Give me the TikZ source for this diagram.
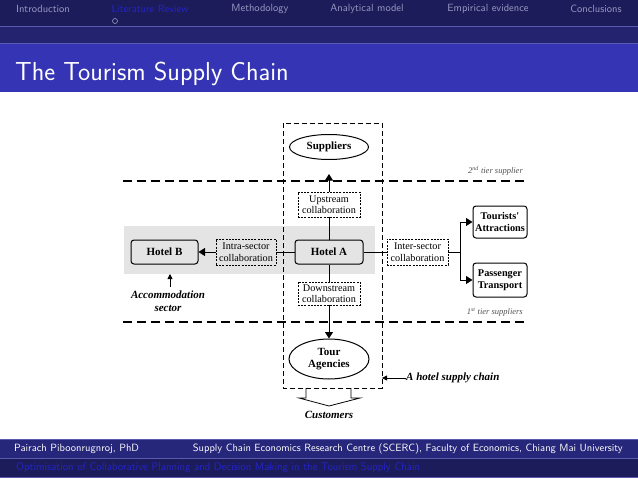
\documentclass[tikz,border=0pt]{standalone}
\usepackage{fontspec}
\newfontfamily\dfont{Liberation Serif}
\usetikzlibrary{arrows.meta,shapes.geometric}
\definecolor{navyA}{HTML}{1C1C5A}
\definecolor{navyB}{HTML}{232370}
\definecolor{titleblue}{HTML}{3434B4}
\definecolor{footA}{HTML}{26267A}
\definecolor{footB}{HTML}{1C1C5A}
\definecolor{sepline}{HTML}{5A5AB0}
\definecolor{navtext}{HTML}{9A9AC4}
\definecolor{hiddenblue}{HTML}{2424C8}
\definecolor{bandgrey}{HTML}{E4E4E4}
\definecolor{tiergrey}{HTML}{505050}
\begin{document}
\begin{tikzpicture}[x=1pt,y=-1pt,
  navtxt/.style={font=\sffamily\fontsize{10.5}{12}\selectfont, text=navtext, inner sep=0},
  foottxt/.style={font=\sffamily\fontsize{10.5}{12}\selectfont, text=white, inner sep=0},
  hotelbox/.style={draw, rounded corners=3pt, line width=1pt, inner sep=0, align=center,
    font=\dfont\bfseries\fontsize{11}{12}\selectfont},
  smallbox/.style={hotelbox, font=\dfont\bfseries\fontsize{10.3}{12}\selectfont},
  collab/.style={draw, dash pattern=on 2pt off 1.2pt, line width=0.8pt, inner sep=0, align=center,
    font=\dfont\fontsize{10.2}{11.5}\selectfont},
  ellbox/.style={draw, ellipse, line width=1pt, inner sep=0, align=center,
    font=\dfont\bfseries\fontsize{11}{12.5}\selectfont},
  tierline/.style={line width=1.8pt, dash pattern=on 9pt off 5pt},
  tiertxt/.style={font=\dfont\itshape\fontsize{8.5}{10}\selectfont, text=tiergrey, inner sep=0},
  labtxt/.style={font=\dfont\bfseries\itshape\fontsize{11}{13}\selectfont, inner sep=0, align=center},
  arr/.style={-{Triangle[length=6.5pt,width=8pt]}, line width=1pt},
  conn/.style={line width=1pt}]
\useasboundingbox (0,0) rectangle (638,479);
% header
\fill[navyA] (0,0) rectangle (638,26);
\fill[navyB] (0,26) rectangle (638,43);
\fill[titleblue] (0,43) rectangle (638,92);
\draw[sepline, line width=0.8pt] (0,26.5) -- (638,26.5);
\draw[sepline, line width=0.8pt] (0,43) -- (638,43);
\node[navtxt] (n1) at (43,9) {Introduction};
\node[navtxt, text=hiddenblue] (n2) at (150,9) {Literature Review};
\node[navtxt] (n3) at (260,9) {Methodology};
\node[navtxt] (n4) at (367,9) {Analytical model};
\node[navtxt] (n5) at (488,9) {Empirical evidence};
\node[navtxt] (n6) at (596,9) {Conclusions};
\node[draw=navtext, circle, minimum size=5pt, inner sep=0, line width=0.6pt] (dot) at (115,21) {};
\node[font=\sffamily\fontsize{26}{30}\selectfont, text=white, anchor=base west, inner sep=0] (title) at (15,80) {The Tourism Supply Chain};
% footer
\fill[footA] (0,439) rectangle (638,458);
\fill[footB] (0,458) rectangle (638,477);
\draw[sepline, line width=0.8pt] (0,439) -- (638,439);
\draw[sepline, line width=0.8pt] (0,458) -- (638,458);
\draw[sepline, line width=0.8pt] (0,477) -- (638,477);
\node[foottxt, anchor=west] (f1) at (14,449) {Pairach Piboonrugnroj, PhD};
\node[foottxt, anchor=east] (f2) at (623,449) {Supply Chain Economics Research Centre (SCERC), Faculty of Economics, Chiang Mai University};
\node[foottxt, text=hiddenblue, anchor=west, font=\sffamily\fontsize{11}{12}\selectfont] (f3) at (16,468) {Optimisation of Collaborative Planning and Decision Making in the Tourism Supply Chain};
% diagram
\fill[bandgrey] (124,226) rectangle (375,274);
\draw[line width=1pt, dash pattern=on 5pt off 3pt] (283,123) rectangle (382,388);
\coordinate (rectE) at (382,378);
\draw[tierline] (123,181) -- (527,181);
\draw[tierline] (123,322) -- (527,322);
\node[tiertxt, anchor=east] (t2) at (523,171) {2\textsuperscript{nd} tier supplier};
\node[tiertxt, anchor=east] (t1) at (523,312) {1\textsuperscript{st} tier suppliers};
\node[ellbox, minimum width=79pt, minimum height=25pt] (sup) at (329,147) {Suppliers};
\node[ellbox, minimum width=80pt, minimum height=40pt] (tour) at (329,359) {Tour\\Agencies};
\node[hotelbox, minimum width=68pt, minimum height=24pt] (ha) at (329,252) {Hotel A};
\node[hotelbox, minimum width=67pt, minimum height=24pt] (hb) at (164.5,252) {Hotel B};
\node[smallbox, minimum width=54pt, minimum height=32pt] (attr) at (500,222) {Tourists'\\Attractions};
\node[smallbox, minimum width=54pt, minimum height=34pt] (trans) at (500,280) {Passenger\\Transport};
\node[collab, minimum width=62pt, minimum height=25pt] (up) at (329,204.5) {Upstream\\collaboration};
\node[collab, minimum width=62pt, minimum height=23pt] (down) at (329,293.5) {Downstream\\collaboration};
\node[collab, minimum width=60pt, minimum height=26pt] (intra) at (246,252) {Intra-sector\\collaboration};
\node[collab, minimum width=61pt, minimum height=26pt] (inter) at (417.5,252) {Inter-sector\\collaboration};
\coordinate (uptip) at (329,174);
\draw[arr] (up.north) -- (uptip);
\draw[conn] (ha.north) -- (up.south);
\draw[conn] (ha.south) -- (down.north);
\draw[arr] (down.south) -- (tour.north);
\draw[conn] (ha.west) -- (intra.east);
\draw[arr] (intra.west) -- (hb.east);
\draw[conn] (ha.east) -- (inter.west);
\coordinate (br) at (460,252);
\draw[conn] (inter.east) -- (br);
\draw[arr] (br) |- (attr.west);
\draw[arr] (br) |- (trans.west);
% accommodation sector
\node[labtxt] (acc) at (168,301.5) {Accommodation\\sector};
\coordinate (bandS) at (170,274);
\draw[-{Triangle[length=5pt,width=5pt]}, line width=0.8pt] (170,287) -- (bandS);
% hotel supply chain
\node[labtxt, anchor=west] (hsc) at (406,378) {A hotel supply chain};
\draw[-{Triangle[length=5pt,width=5pt]}, line width=0.8pt] (hsc.west) -- (rectE);
% customers
\draw[line width=0.8pt] (306,388) -- (306,398) -- (299,398) -- (329,406) -- (360,398) -- (351,398) -- (351,388);
\node[labtxt] (cust) at (329,415) {Customers};
\end{tikzpicture}
\end{document}
